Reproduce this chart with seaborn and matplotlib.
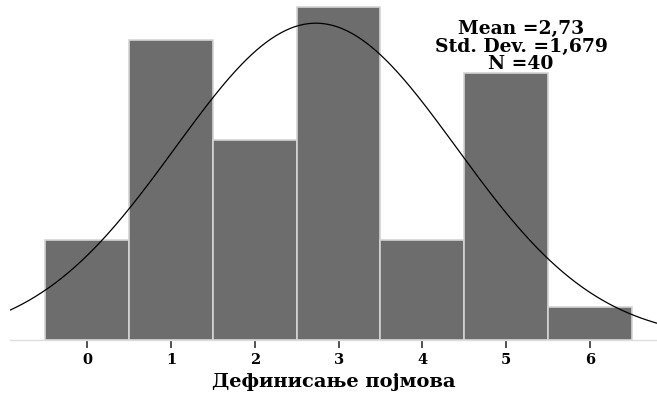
import numpy as np
import pandas as pd
import matplotlib
matplotlib.use("Agg")
import matplotlib.pyplot as plt
import seaborn as sns

# Frequency of each score for "Дефинисање појмова"
scores = [0, 1, 2, 3, 4, 5, 6]
counts = [3, 9, 6, 10, 3, 8, 1]
tick_labels = ["0", "1", "2", "3", "4", "5", "6"]
mean_value = 2.73
std_value = 1.679
n_total = 40

sns.set_theme(style="white")
plt.rcParams["font.family"] = ["DejaVu Serif"]
plt.rcParams["text.color"] = "black"
plt.rcParams["xtick.color"] = "black"
plt.rcParams["axes.labelcolor"] = "black"

df = pd.DataFrame({"score": np.repeat(scores, counts)})

fig = plt.figure(figsize=(6.57, 3.98), dpi=100)
ax = fig.add_axes([10 / 657, 58 / 398, 647 / 657, 340 / 398])

sns.histplot(
    data=df, x="score", discrete=True, ax=ax,
    color="#6d6d6d", alpha=1.0, edgecolor="#d4d4d4", linewidth=1.2,
)

# Fitted normal curve scaled to counts (bin width 1)
xs = np.linspace(-0.92, 6.80, 400)
pdf = n_total / (std_value * np.sqrt(2 * np.pi)) * np.exp(-0.5 * ((xs - mean_value) / std_value) ** 2)
sns.lineplot(x=xs, y=pdf, ax=ax, color="black", linewidth=0.9)

ax.set_xlim(-0.92, 6.80)
ax.set_ylim(0, 10.2)
for side in ["top", "right", "left"]:
    ax.spines[side].set_visible(False)
ax.spines["bottom"].set_color("#dddddd")
ax.spines["bottom"].set_linewidth(1.0)
ax.set_yticks([])
ax.set_xticks(scores)
ax.set_xticklabels(tick_labels, fontsize=10.5, fontweight="bold", color="black")
ax.tick_params(axis="x", bottom=True, length=6, width=1.2, color="#333333", pad=3)
ax.set_ylabel("")
ax.set_xlabel("Дефинисање појмова", fontsize=14, fontweight="bold", labelpad=5, color="black")

mean_txt = f"{mean_value:.2f}".replace(".", ",")
std_txt = f"{std_value:.3f}".replace(".", ",")
ax.text(
    0.79, 0.94,
    f"Mean ={mean_txt}\nStd. Dev. ={std_txt}\nN ={n_total}",
    transform=ax.transAxes, ha="center", va="top", color="black",
    fontsize=13.5, fontweight="bold", linespacing=0.95,
)

fig.savefig("out.png", dpi=100)
